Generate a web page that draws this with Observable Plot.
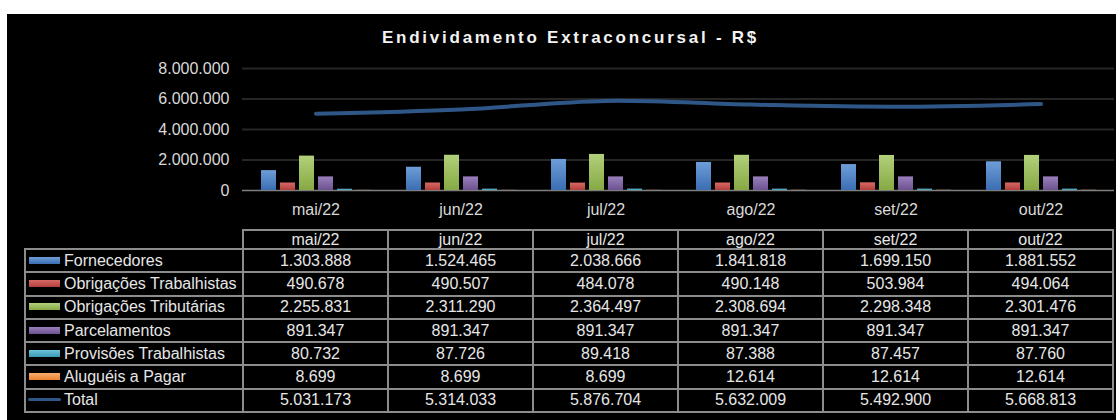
<!DOCTYPE html>
<html>
<head>
<meta charset="utf-8">
<script src="https://cdn.jsdelivr.net/npm/d3@7"></script>
<script src="https://cdn.jsdelivr.net/npm/@observablehq/plot@0.6"></script>
<style>
  html, body { margin: 0; padding: 0; background: #ffffff; width: 1116px; height: 420px; overflow: hidden; position: relative; font-family: "Liberation Sans", Arial, sans-serif; }
  #panel { position: absolute; left: 7px; top: 14px; width: 1109px; height: 406px; background: #000; }
  #title { position: absolute; left: 0; top: 29px; width: 1141px; text-align: center; color: #f2f2f2; font: bold 17px/17px "Liberation Sans", Arial, sans-serif; letter-spacing: 2.75px; white-space: nowrap; }
  .plotwrap { position: absolute; left: 0; top: 50px; }
  .plotwrap svg { display: block; }
  #tbl { position: absolute; left: 24px; top: 229px; border-collapse: collapse; table-layout: fixed; width: 1090px; color: #e6e6e6; font: 16px/16px "Liberation Sans", Arial, sans-serif; }
  #tbl td, #tbl th { border: 2px solid #8c8c8c; padding: 0; text-align: center; vertical-align: middle; font-weight: normal; white-space: nowrap; overflow: hidden; }
  #tbl th.blank { border: none; border-bottom: 2px solid #8c8c8c; }
  #tbl tr.head { height: 19px; }
  #tbl tr.row { height: 23.3px; }
  #tbl td.lab { text-align: left; }
  .key { display: inline-block; width: 31px; height: 7px; margin-left: 3px; margin-right: 4px; vertical-align: 2px; }
  .keyline { display: inline-block; width: 33px; height: 3px; border-radius: 2px; margin-left: 2px; margin-right: 3px; vertical-align: 4px; }
</style>
</head>
<body>
<div id="panel"></div>
<div id="title">Endividamento Extraconcursal - R$</div>
<svg width="0" height="0" style="position:absolute">
  <defs>
    <linearGradient id="g0" x1="0" y1="0" x2="0" y2="1"><stop offset="0" stop-color="#6e9ed8"/><stop offset="1" stop-color="#3b6db3"/></linearGradient>
    <linearGradient id="g1" x1="0" y1="0" x2="0" y2="1"><stop offset="0" stop-color="#d86966"/><stop offset="1" stop-color="#b33f3c"/></linearGradient>
    <linearGradient id="g2" x1="0" y1="0" x2="0" y2="1"><stop offset="0" stop-color="#b2d07a"/><stop offset="1" stop-color="#87a944"/></linearGradient>
    <linearGradient id="g3" x1="0" y1="0" x2="0" y2="1"><stop offset="0" stop-color="#9a80bd"/><stop offset="1" stop-color="#6d5190"/></linearGradient>
    <linearGradient id="g4" x1="0" y1="0" x2="0" y2="1"><stop offset="0" stop-color="#6cc3da"/><stop offset="1" stop-color="#3a9ab5"/></linearGradient>
    <linearGradient id="g5" x1="0" y1="0" x2="0" y2="1"><stop offset="0" stop-color="#f9ad70"/><stop offset="1" stop-color="#e9832f"/></linearGradient>
  </defs>
</svg>
<div class="plotwrap" id="base"></div>
<div class="plotwrap" id="bars"></div>
<table id="tbl"></table>
<script>
// ---- data ----
const months = ["mai/22", "jun/22", "jul/22", "ago/22", "set/22", "out/22"];
const seriesNames = ["Fornecedores", "Obrigações Trabalhistas", "Obrigações Tributárias", "Parcelamentos", "Provisões Trabalhistas", "Aluguéis a Pagar"];
const fornecedores = [1303888, 1524465, 2038666, 1841818, 1699150, 1881552];
const obrigacoesTrabalhistas = [490678, 490507, 484078, 490148, 503984, 494064];
const obrigacoesTributarias = [2255831, 2311290, 2364497, 2308694, 2298348, 2301476];
const parcelamentos = [891347, 891347, 891347, 891347, 891347, 891347];
const provisoesTrabalhistas = [80732, 87726, 89418, 87388, 87457, 87760];
const alugueisAPagar = [8699, 8699, 8699, 12614, 12614, 12614];
const totalName = "Total";
const total = [5031173, 5314033, 5876704, 5632009, 5492900, 5668813];
const yTicks = [0, 2000000, 4000000, 6000000, 8000000];

// ---- styles ----
const seriesFills = ["url(#g0)", "url(#g1)", "url(#g2)", "url(#g3)", "url(#g4)", "url(#g5)"];
const keyCss = [
  "linear-gradient(#6e9ed8,#3b6db3)", "linear-gradient(#d86966,#b33f3c)", "linear-gradient(#b2d07a,#87a944)",
  "linear-gradient(#9a80bd,#6d5190)", "linear-gradient(#6cc3da,#3a9ab5)", "linear-gradient(#f9ad70,#e9832f)"
];
const lineColor = "#2e5787";

const seriesValues = [fornecedores, obrigacoesTrabalhistas, obrigacoesTributarias, parcelamentos, provisoesTrabalhistas, alugueisAPagar];
const fmt = d3.formatLocale({decimal: ",", thousands: ".", grouping: [3], currency: ["R$ ", ""]}).format(",d");

const long = [];
seriesNames.forEach((s, i) => months.forEach((m, j) => long.push({month: m, series: s, value: seriesValues[i][j]})));
const totals = months.map((m, j) => ({month: m, value: total[j]}));

const W = 1116, H = 175;
const margins = {marginLeft: 242, marginRight: 2, marginTop: 18, marginBottom: 35};
const svgStyle = {background: "transparent", color: "#d9d9d9", fontSize: "16px", fontFamily: "'Liberation Sans', Arial, sans-serif", overflow: "visible"};

// base layer: grid, zero line, y axis, total line
const base = Plot.plot({
  width: W, height: H, ...margins,
  style: svgStyle,
  x: {type: "band", domain: months, padding: 0, axis: null},
  y: {domain: [0, 8000000], ticks: yTicks, tickFormat: fmt, tickSize: 0, tickPadding: 13, label: null},
  marks: [
    Plot.ruleY(yTicks.filter(d => d > 0), {stroke: "#262626", strokeWidth: 2}),
    Plot.ruleY([0], {stroke: "#7f7f7f", strokeWidth: 1.5}),
    Plot.line(totals, {x: "month", y: "value", curve: "catmull-rom", stroke: lineColor, strokeWidth: 4, strokeLinecap: "round"})
  ]
});
document.getElementById("base").appendChild(base);

// bars layer: grouped bars via fx facets
const bars = Plot.plot({
  width: W, height: H, ...margins,
  style: svgStyle,
  fx: {domain: months, paddingInner: 0.19, paddingOuter: 0.095, axis: "bottom", tickSize: 0, tickPadding: 13, label: null},
  x: {domain: seriesNames, paddingInner: 0.23, paddingOuter: 0.115, axis: null},
  y: {domain: [0, 8000000], axis: null},
  color: {domain: seriesNames, range: seriesFills},
  marks: [
    Plot.barY(long, {fx: "month", x: "series", y: "value", fill: "series"})
  ]
});
document.getElementById("bars").appendChild(bars);

// data table
const tbl = document.getElementById("tbl");
let html = "<colgroup><col style='width:218px'>" + months.map(() => "<col>").join("") + "</colgroup>";
html += "<tr class='head'><th class='blank'></th>" + months.map(m => `<th>${m}</th>`).join("") + "</tr>";
seriesNames.forEach((s, i) => {
  html += `<tr class='row'><td class='lab'><span class='key' style='background:${keyCss[i]}'></span>${s}</td>` +
    seriesValues[i].map(v => `<td>${fmt(v)}</td>`).join("") + "</tr>";
});
html += `<tr class='row'><td class='lab'><span class='keyline' style='background:${lineColor}'></span>${totalName}</td>` +
  total.map(v => `<td>${fmt(v)}</td>`).join("") + "</tr>";
tbl.innerHTML = html;
</script>
</body>
</html>
